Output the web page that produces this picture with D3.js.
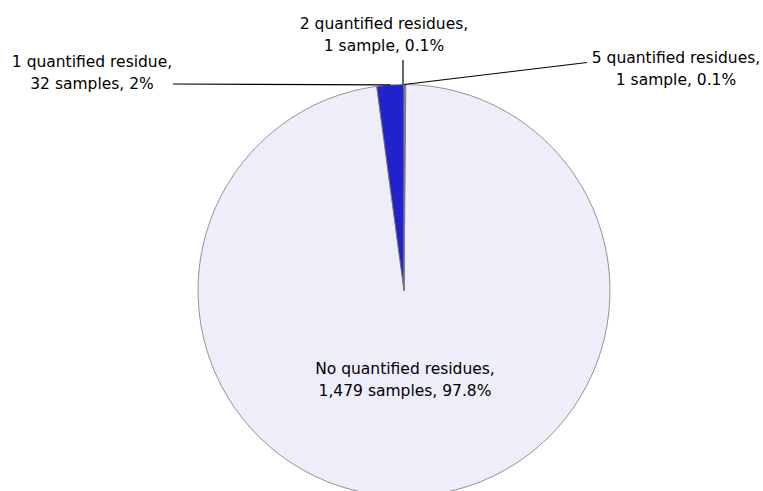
<!DOCTYPE html>
<html>
<head>
<meta charset="utf-8">
<script src="https://cdn.jsdelivr.net/npm/d3@7"></script>
<style>
  html, body { margin: 0; padding: 0; background: #fff; }
  svg { display: block; }
  text { font-family: "DejaVu Sans", Verdana, sans-serif; font-size: 15.5px; fill: #000; }
</style>
</head>
<body>
<svg id="chart" width="763" height="491"></svg>
<script>
// ---- data ----
const categories = ["No quantified residues", "1 quantified residue", "2 quantified residues", "5 quantified residues"];
const samples = [1479, 32, 1, 1];
const sampleLabels = ["1,479 samples", "32 samples", "1 sample", "1 sample"];
const percentLabels = ["97.8%", "2%", "0.1%", "0.1%"];
const colors = ["#EEEEFA", "#2222CC", "#9a9aa6", "#9a9aa6"];

// ---- layout ----
const width = 763, height = 491;
const cx = 404, cy = 290.5, radius = 206;
const total = d3.sum(samples);
// the two tiny slices sit just clockwise of 12 o'clock, the big one follows
const offset = 2 * Math.PI * (samples[2] + samples[3]) / total;

const svg = d3.select("#chart");
const g = svg.append("g").attr("transform", `translate(${cx},${cy})`);

const pie = d3.pie().sort(null).value(d => d)
  .startAngle(offset).endAngle(offset + 2 * Math.PI);
const arcs = pie(samples);
const arc = d3.arc().innerRadius(0).outerRadius(radius);

g.selectAll("path.slice")
  .data(arcs)
  .join("path")
  .attr("class", "slice")
  .attr("d", arc)
  .attr("fill", (d, i) => colors[i])
  .attr("stroke", "#7a7a7a")
  .attr("stroke-width", 0.8);

// positions of tiny slices are interpreted modulo 2π
function edgePoint(d, r) {
  const a = (d.startAngle + d.endAngle) / 2;
  return [Math.sin(a) * r, -Math.cos(a) * r];
}

// label placements (absolute page coords): [x, baseline1, baseline2, lineEnd]
const labelPos = [
  { x: 405, y1: 374, y2: 396, end: null },
  { x: 92, y1: 67, y2: 89, end: [173, 84] },
  { x: 384, y1: 29, y2: 51, end: [403, 60] },
  { x: 676, y1: 63, y2: 85, end: [587, 62.5] }
];

// mapping small slices (indices 2,3) to the top: their angles exceed 2π, arc handles it
arcs.forEach((d, i) => {
  const lp = labelPos[i];
  if (lp.end) {
    let p;
    if (i === 2) p = [cx - 1, cy - radius];
    else if (i === 3) p = [cx, cy - radius];
    else { const e = edgePoint(d, radius); p = [cx + e[0], cy + e[1]]; }
    svg.append("line")
      .attr("x1", p[0]).attr("y1", p[1])
      .attr("x2", lp.end[0]).attr("y2", lp.end[1])
      .attr("stroke", "#000").attr("stroke-width", 1.2);
  }
  const t = svg.append("text").attr("text-anchor", "middle");
  t.append("tspan").attr("x", lp.x).attr("y", lp.y1).text(categories[i] + ",");
  t.append("tspan").attr("x", lp.x).attr("y", lp.y2).text(sampleLabels[i] + ", " + percentLabels[i]);
});
</script>
</body>
</html>
